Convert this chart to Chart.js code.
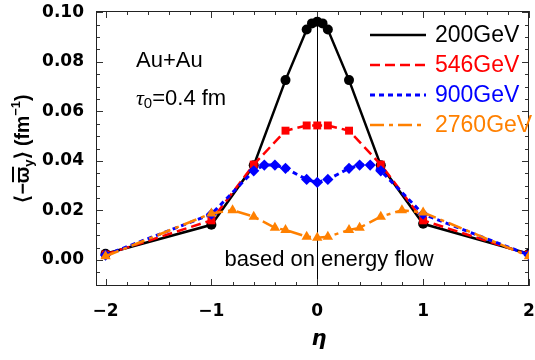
<!DOCTYPE html>
<html>
<head>
<meta charset="utf-8">
<script src="https://cdn.jsdelivr.net/npm/chart.js@4.4.1/dist/chart.umd.min.js"></script>
<style>
  html, body { margin: 0; padding: 0; background: #fff; }
  #wrap { width: 535px; height: 360px; }
</style>
</head>
<body>
<div id="wrap"><canvas id="chart"></canvas></div>
<script>
// values (eta, <-w_y> in fm^-1)
const eta200 = [-2, -1, -0.6, -0.3, -0.1, -0.05, 0, 0.05, 0.1, 0.3, 0.6, 1, 2];
const val200 = [0.0025, 0.0142, 0.0382, 0.0726, 0.093, 0.0955, 0.0962, 0.0955, 0.093, 0.0726, 0.0382, 0.0146, 0.0025];

const eta546 = [-2, -1, -0.6, -0.3, -0.1, 0, 0.1, 0.3, 0.6, 1, 2];
const val546 = [0.0022, 0.016, 0.0385, 0.0522, 0.0543, 0.0543, 0.0543, 0.0522, 0.0385, 0.016, 0.0022];

const eta900 = [-2, -1, -0.6, -0.5, -0.4, -0.3, -0.1, 0, 0.1, 0.3, 0.4, 0.5, 0.6, 1, 2];
const val900 = [0.002, 0.0185, 0.036, 0.0383, 0.0383, 0.037, 0.0325, 0.0313, 0.0325, 0.037, 0.0383, 0.0383, 0.036, 0.0185, 0.002];

const eta2760 = [-2, -1, -0.8, -0.6, -0.4, -0.3, -0.1, 0, 0.1, 0.3, 0.4, 0.6, 0.8, 1, 2];
const val2760 = [0.0015, 0.0188, 0.0201, 0.0175, 0.013, 0.0121, 0.0094, 0.009, 0.0094, 0.0121, 0.013, 0.0175, 0.0201, 0.0192, 0.0015];

const seriesNames = ['200GeV', '546GeV', '900GeV', '2760GeV'];
const xTicks = [-2, -1, 0, 1, 2];
const yTicks = [0, 0.02, 0.04, 0.06, 0.08, 0.10];

const colors = ['#000000', '#ff0000', '#0000ff', '#ff8000'];
const dashes = [[], [10, 5], [5, 4], [14, 5, 4, 5]];
const widths = [2.5, 2.5, 3, 2.5];

const toPts = (xs, ys) => xs.map((x, i) => ({ x: x, y: ys[i] }));

function makeSet(i, xs, ys, style, radius) {
    return {
        label: seriesNames[i],
        data: toPts(xs, ys),
        borderColor: colors[i],
        backgroundColor: colors[i],
        borderWidth: widths[i],
        borderDash: dashes[i],
        pointStyle: style,
        pointRadius: radius,
        pointBorderWidth: 0,
        pointBackgroundColor: colors[i],
        tension: 0,
        order: 4 - i
    };
}

// frame, inside ticks, eta=0 line, legend and labels
const decor = {
    id: 'decor',
    beforeDatasetsDraw(chart) {
        const { ctx, chartArea: a, scales: { x, y } } = chart;
        ctx.save();
        ctx.strokeStyle = '#000';
        ctx.lineWidth = 1;
        const x0 = Math.round(x.getPixelForValue(0)) + 0.5;
        ctx.beginPath();
        ctx.moveTo(x0, a.top);
        ctx.lineTo(x0, a.bottom);
        ctx.stroke();

        ctx.strokeStyle = '#333';
        ctx.beginPath();
        for (let i = -10; i <= 10; i++) {
            const px = Math.round(x.getPixelForValue(i * 0.2)) + 0.5;
            const len = i % 5 === 0 ? 7 : 4;
            ctx.moveTo(px, a.bottom); ctx.lineTo(px, a.bottom - len);
            ctx.moveTo(px, a.top); ctx.lineTo(px, a.top + len);
        }
        for (let i = -2; i <= 20; i++) {
            const py = Math.round(y.getPixelForValue(i * 0.005)) + 0.5;
            const len = i % 4 === 0 ? 7 : 4;
            ctx.moveTo(a.left, py); ctx.lineTo(a.left + len, py);
            ctx.moveTo(a.right, py); ctx.lineTo(a.right - len, py);
        }
        ctx.stroke();
        ctx.strokeStyle = '#222';
        ctx.strokeRect(a.left + 0.5, a.top + 0.5, a.right - a.left - 1, a.bottom - a.top - 1);
        ctx.restore();
    },
    afterDraw(chart) {
        const { ctx } = chart;
        ctx.save();
        // legend
        ctx.font = '23px "Liberation Sans", Arial, sans-serif';
        ctx.textBaseline = 'middle';
        ctx.textAlign = 'left';
        seriesNames.forEach((name, i) => {
            const yy = 35 + 30 * i;
            ctx.strokeStyle = colors[i];
            ctx.lineWidth = widths[i];
            ctx.setLineDash(dashes[i]);
            ctx.beginPath();
            ctx.moveTo(370, yy);
            ctx.lineTo(426, yy);
            ctx.stroke();
            ctx.fillStyle = colors[i];
            ctx.fillText(name, 435, yy + 1);
        });
        ctx.setLineDash([]);

        // annotations
        ctx.fillStyle = '#000';
        ctx.font = '22px "Liberation Sans", Arial, sans-serif';
        ctx.fillText('Au+Au', 136, 61);
        let tx = 136;
        ctx.font = 'italic 22px "Liberation Serif", serif';
        ctx.fillText('τ', tx, 99);
        tx += ctx.measureText('τ').width;
        ctx.font = '15px "Liberation Sans", Arial, sans-serif';
        ctx.fillText('0', tx, 104);
        tx += ctx.measureText('0').width;
        ctx.font = '22px "Liberation Sans", Arial, sans-serif';
        ctx.fillText('=0.4 fm', tx, 99);
        ctx.textAlign = 'center';
        ctx.fillText('based on energy flow', 329, 260);

        // x title
        ctx.font = 'italic bold 21px "DejaVu Sans", sans-serif';
        ctx.fillText('η', 319, 340);

        // y title, rotated
        ctx.translate(22, 148.5);
        ctx.rotate(-Math.PI / 2);
        ctx.textAlign = 'left';
        ctx.textBaseline = 'alphabetic';
        const big = 'bold 19.5px "Liberation Sans", Arial, sans-serif';
        const small = 'bold 13px "Liberation Sans", Arial, sans-serif';
        const parts = [
            { t: '⟨−', f: big, dy: 0 },
            { t: 'ϖ', f: big, dy: 0, bar: true },
            { t: 'y', f: small, dy: 4 },
            { t: '⟩ (fm', f: big, dy: 0 },
            { t: '−1', f: small, dy: -9 },
            { t: ')', f: big, dy: 0 }
        ];
        let total = 0;
        parts.forEach(p => { ctx.font = p.f; p.w = ctx.measureText(p.t).width; total += p.w; });
        let px = -total / 2;
        const base = 7;
        parts.forEach(p => {
            ctx.font = p.f;
            ctx.fillText(p.t, px, base + p.dy);
            if (p.bar) {
                ctx.fillRect(px + 1, base - 17, p.w - 1, 2);
            }
            px += p.w;
        });
        ctx.restore();
    }
};

const tickFont = { family: '"DejaVu Sans", sans-serif', weight: 'bold', size: 17 };

new Chart(document.getElementById('chart'), {
    type: 'line',
    data: {
        datasets: [
            makeSet(0, eta200, val200, 'circle', 5),
            makeSet(1, eta546, val546, 'rect', 5.6),
            makeSet(2, eta900, val900, 'rectRot', 5.6),
            makeSet(3, eta2760, val2760, 'triangle', 6)
        ]
    },
    options: {
        responsive: true,
        maintainAspectRatio: false,
        animation: false,
        layout: { padding: { top: 11, right: 5, left: 0, bottom: 0 } },
        plugins: {
            legend: { display: false },
            tooltip: { enabled: false }
        },
        scales: {
            x: {
                type: 'linear',
                min: -2.09,
                max: 2,
                grid: { display: false },
                border: { display: false },
                ticks: {
                    font: tickFont,
                    color: '#000',
                    padding: 7,
                    maxRotation: 0,
                    autoSkip: false,
                    callback: v => v < 0 ? '−' + Math.abs(v) : String(v)
                },
                afterBuildTicks: s => { s.ticks = xTicks.map(v => ({ value: v })); },
                afterFit: s => { s.height = 74; s.paddingLeft = 0; s.paddingRight = 0; }
            },
            y: {
                type: 'linear',
                min: -0.0105,
                max: 0.1005,
                grid: { display: false },
                border: { display: false },
                ticks: {
                    font: tickFont,
                    color: '#000',
                    padding: 4,
                    callback: v => v.toFixed(2)
                },
                afterBuildTicks: s => { s.ticks = yTicks.map(v => ({ value: v })); },
                afterFit: s => { s.width = 96; s.paddingTop = 0; s.paddingBottom = 0; }
            }
        }
    },
    plugins: [decor]
});
</script>
</body>
</html>
